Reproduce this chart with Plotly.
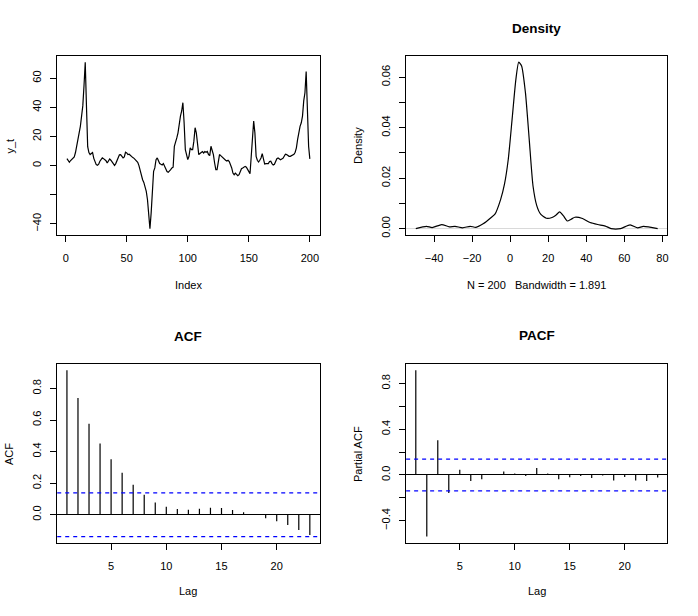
#!/usr/bin/env python3
"""
Four-panel diagnostic plot of a series y_t: the series, its kernel density,
the ACF and the PACF, laid out like R's base graphics par(mfrow=c(2,2)).
"""
import plotly.graph_objects as go

# ---- data ----
y_t = [
    4.8, 3.6, 2.3, 3.5, 4.6, 5.3, 6.0, 9.0, 13.0, 18.0,
    22.5, 27.0, 34.0, 41.0, 55.0, 71.0, 41.0, 13.0, 9.0, 7.6,
    8.3, 9.0, 5.0, 3.0, 0.7, 0.2, 1.0, 3.0, 4.6, 5.3,
    4.8, 4.1, 3.4, 1.8, 3.7, 4.6, 3.7, 2.3, 0.7, 0.2,
    1.4, 3.7, 6.0, 7.4, 7.6, 6.4, 5.3, 6.0, 9.2, 8.7,
    7.6, 7.8, 6.9, 6.4, 5.5, 5.0, 4.1, 3.2, 2.3, 0.0,
    -3.9, -7.8, -9.7, -11.5, -14.3, -17.7, -23.4, -32.6, -43.2, -32.6,
    -14.3, -3.9, -1.6, 4.1, 5.3, 3.0, 1.4, 0.9, 0.5, 1.4,
    -0.5, -2.8, -4.1, -4.6, -3.9, -2.8, -1.6, -1.1, 13.3, 15.6,
    19.0, 22.5, 30.6, 34.0, 37.5, 43.2, 29.4, 11.0, 7.6, 4.1,
    6.4, 12.2, 11.0, 11.0, 16.8, 26.0, 22.5, 12.2, 7.6, 8.3,
    9.2, 9.7, 8.7, 9.7, 9.2, 9.7, 7.6, 6.9, 13.3, 11.0,
    7.6, 1.8, -2.8, -2.8, 4.1, 7.6, 6.9, 6.0, 5.0, 4.6,
    3.7, 3.2, 3.7, 2.8, 0.7, -1.6, -5.1, -6.2, -5.1, -6.2,
    -6.9, -6.2, -3.4, -2.1, -1.6, -1.1, -0.5, -1.1, -2.3, -3.9,
    -5.5, 6.4, 22.5, 30.6, 22.5, 6.4, 3.7, 2.5, 3.7, 5.3,
    8.3, 4.1, 1.1, 1.4, 1.4, 1.4, 2.8, 3.0, 1.4, 0.5,
    0.9, 3.0, 4.8, 5.3, 4.8, 4.1, 4.6, 5.0, 6.4, 7.8,
    7.6, 6.9, 6.4, 6.4, 6.7, 7.1, 7.8, 9.2, 12.2, 18.0,
    23.0, 27.0, 29.4, 34.0, 44.4, 50.0, 64.6, 41.0, 13.3, 4.6,
]
index = list(range(1, len(y_t) + 1))

dens_x = [-49.6, -44, -41, -36, -32, -29, -25, -21, -18, -14, -10, -8, -5, -3,
          -1, 1, 3, 4.5, 6, 8, 10, 12, 14, 16, 19, 22, 24, 26, 28, 30, 32, 34,
          38, 42, 46, 50, 53, 58, 63, 67, 70, 77.5]
dens_y = [0.0, 0.0009, 0.0004, 0.0016, 0.0007, 0.0009, 0.0003, 0.0009, 0.0005,
          0.0020, 0.0044, 0.0057, 0.0116, 0.0176, 0.0275, 0.0433, 0.0592, 0.0660,
          0.0645, 0.0540, 0.0354, 0.0169, 0.0090, 0.0057, 0.0041, 0.0044, 0.0053,
          0.0066, 0.0050, 0.0030, 0.0037, 0.0045, 0.0040, 0.0024, 0.0016, 0.0010,
          0.0, 0.0, 0.0015, 0.0003, 0.0009, 0.0]

lags = list(range(1, 24))
acf_vals = [0.916, 0.739, 0.576, 0.452, 0.352, 0.266, 0.190, 0.127, 0.078, 0.051,
            0.036, 0.032, 0.038, 0.044, 0.042, 0.030, 0.015, 0.002, -0.023, -0.042,
            -0.065, -0.097, -0.129]
pacf_vals = [0.916, -0.539, 0.304, -0.157, 0.046, -0.052, -0.038, 0.006, 0.029, 0.012,
             -0.009, 0.061, 0.012, -0.038, -0.020, -0.009, -0.026, -0.006, -0.049, -0.017,
             -0.049, -0.052, -0.023]
conf_limit = 1.96 / len(y_t) ** 0.5

ts_yticks = [-40, -20, 0, 20, 40, 60]
ts_ylabels = ["−40", "", "0", "20", "40", "60"]
ts_xticks = [0, 50, 100, 150, 200]
dens_xticks = [-40, -20, 0, 20, 40, 60, 80]
dens_yticks = [0.00, 0.01, 0.02, 0.03, 0.04, 0.05, 0.06]
dens_ylabels = ["0.00", "", "0.02", "", "0.04", "", "0.06"]
lag_ticks = [5, 10, 15, 20]
acf_yticks = [0.0, 0.2, 0.4, 0.6, 0.8]
pacf_yticks = [-0.4, -0.2, 0.0, 0.2, 0.4, 0.6, 0.8]
pacf_ylabels = ["−0.4", "", "0.0", "", "0.4", "", "0.8"]

W, H = 698, 616
FONT = "Liberation Sans, Arial, Helvetica, sans-serif"
LEFT, RIGHT = (57.3, 320.0), (406.7, 668.3)
TOP, BOTTOM = (55.7, 236.0), (364.7, 545.0)


def xdom(box):
    return [box[0] / W, box[1] / W]


def ydom(box):
    return [1 - box[1] / H, 1 - box[0] / H]


def r_range(values):
    # R's default 4% axis extension
    lo, hi = min(values), max(values)
    pad = (hi - lo) * 0.04
    return [lo - pad, hi + pad]


def spikes(xs, ys):
    sx, sy = [], []
    for a, b in zip(xs, ys):
        sx += [a, a, None]
        sy += [0, b, None]
    return sx, sy


fig = go.Figure()

fig.add_trace(go.Scatter(x=index, y=y_t, mode="lines",
                         line=dict(color="black", width=1.2),
                         xaxis="x", yaxis="y"))
fig.add_trace(go.Scatter(x=dens_x, y=dens_y, mode="lines",
                         line=dict(color="black", width=1.2, shape="spline", smoothing=0.6),
                         xaxis="x2", yaxis="y2"))
ax, ay = spikes(lags, acf_vals)
fig.add_trace(go.Scatter(x=ax, y=ay, mode="lines",
                         line=dict(color="black", width=1.2),
                         xaxis="x3", yaxis="y3"))
px_, py_ = spikes(lags, pacf_vals)
fig.add_trace(go.Scatter(x=px_, y=py_, mode="lines",
                         line=dict(color="black", width=1.2),
                         xaxis="x4", yaxis="y4"))

# blue dashed confidence bounds on ACF / PACF
for xr, yr in [("x3", "y3"), ("x4", "y4")]:
    for lim in (conf_limit, -conf_limit):
        fig.add_shape(type="line", xref=xr + " domain", yref=yr,
                      x0=0, x1=1, y0=lim, y1=lim,
                      line=dict(color="#0000FF", width=1.2, dash="4px,4px"))

axis_common = dict(showline=True, mirror=True, linecolor="black", linewidth=1,
                   ticks="outside", ticklen=6, tickcolor="black", tickwidth=1,
                   showgrid=False, zeroline=False,
                   tickfont=dict(family=FONT, size=11, color="black"))
xaxis_common = dict(axis_common, ticklabelstandoff=7)
yaxis_common = dict(axis_common, ticklabelstandoff=5, tickangle=-90)

lag_range = r_range(lags)
acf_range = r_range(acf_vals + [conf_limit, -conf_limit])
pacf_range = r_range(pacf_vals + [conf_limit, -conf_limit])

fig.update_layout(
    width=W, height=H,
    margin=dict(l=0, r=0, t=0, b=0),
    paper_bgcolor="white", plot_bgcolor="white",
    showlegend=False,
    font=dict(family=FONT, size=11, color="black"),
    xaxis=dict(domain=xdom(LEFT), anchor="y", range=r_range(index),
               tickvals=ts_xticks, **xaxis_common),
    yaxis=dict(domain=ydom(TOP), anchor="x", range=r_range(y_t),
               tickvals=ts_yticks, ticktext=ts_ylabels, **yaxis_common),
    xaxis2=dict(domain=xdom(RIGHT), anchor="y2", range=r_range(dens_x),
                tickvals=dens_xticks, ticktext=[str(v).replace("-", "−") for v in dens_xticks],
                **xaxis_common),
    yaxis2=dict(domain=ydom(TOP), anchor="x2", range=r_range(dens_y),
                tickvals=dens_yticks, ticktext=dens_ylabels,
                **{**yaxis_common, "zeroline": True, "zerolinecolor": "#d9d9d9",
                   "zerolinewidth": 1}),
    xaxis3=dict(domain=xdom(LEFT), anchor="y3", range=lag_range,
                tickvals=lag_ticks, **xaxis_common),
    yaxis3=dict(domain=ydom(BOTTOM), anchor="x3", range=acf_range,
                tickvals=acf_yticks, ticktext=[f"{v:.1f}" for v in acf_yticks],
                **{**yaxis_common, "zeroline": True, "zerolinecolor": "black",
                   "zerolinewidth": 1}),
    xaxis4=dict(domain=xdom(RIGHT), anchor="y4", range=lag_range,
                tickvals=lag_ticks, **xaxis_common),
    yaxis4=dict(domain=ydom(BOTTOM), anchor="x4", range=pacf_range,
                tickvals=pacf_yticks, ticktext=pacf_ylabels,
                **{**yaxis_common, "zeroline": True, "zerolinecolor": "black",
                   "zerolinewidth": 1}),
)

# axis titles and panel titles placed in pixels, R style
labels = [
    ("y_t", 10, 146, -90, False),
    ("Index", 188.7, 286, 0, False),
    ("Density", 358, 146, -90, False),
    ("N\u00a0=\u00a0200\u00a0\u00a0\u00a0Bandwidth\u00a0=\u00a01.891", 537.5, 286, 0, False),
    ("Density", 537.5, 29, 0, True),
    ("ACF", 188.7, 338, 0, True),
    ("PACF", 537.5, 337, 0, True),
    ("ACF", 8.5, 455, -90, False),
    ("Partial ACF", 358, 455, -90, False),
    ("Lag", 188.7, 593, 0, False),
    ("Lag", 537.5, 593, 0, False),
]
for text, x, y, angle, bold in labels:
    fig.add_annotation(
        text=f"<b>{text}</b>" if bold else text,
        x=x / W, y=1 - y / H, xref="paper", yref="paper",
        xanchor="center", yanchor="middle", showarrow=False, textangle=angle,
        font=dict(family=FONT, size=13.5 if bold else 11, color="black"),
    )

fig.write_html("out.html", config={"displayModeBar": False},
               post_script="document.body.style.margin='0px';")
